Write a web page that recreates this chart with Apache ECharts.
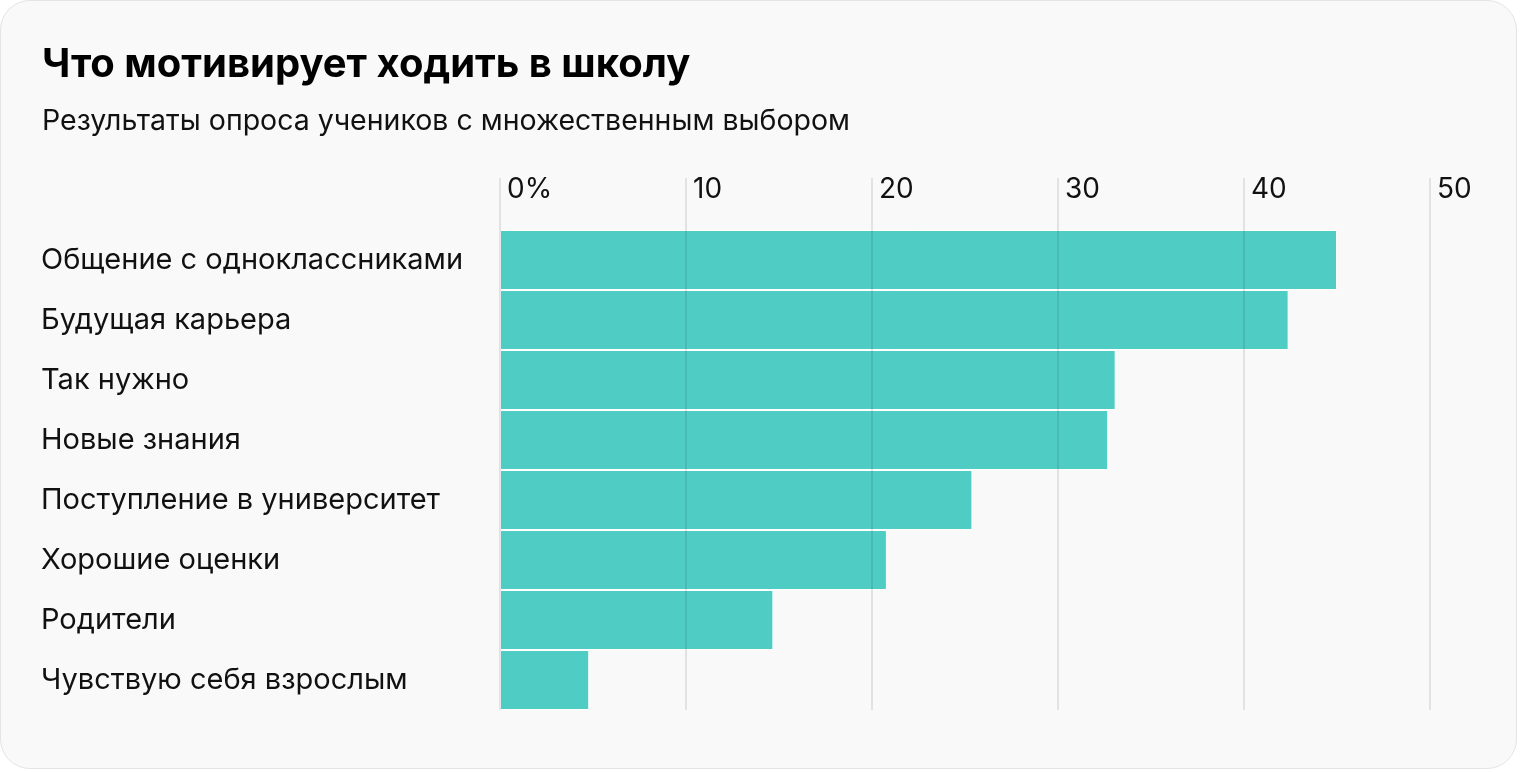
<!DOCTYPE html>
<html>
<head>
<meta charset="utf-8">
<script src="https://cdn.jsdelivr.net/npm/echarts@6/dist/echarts.min.js"></script>
<style>
  html, body { margin: 0; padding: 0; background: #ffffff; }
  #card { position: absolute; left: 0; top: 0; width: 1517px; height: 769px; background: #f9f9f9; border: 1.5px solid #e4e4e4; border-radius: 30px; box-sizing: border-box; }
  #chart { position: absolute; left: 0; top: 0; width: 1520px; height: 772px; }
</style>
</head>
<body>
<div id="card"></div>
<div id="chart"></div>
<script>
const titleText = 'Что мотивирует ходить в школу';
const subtitleText = 'Результаты опроса учеников с множественным выбором';
const categories = [
  'Общение с одноклассниками',
  'Будущая карьера',
  'Так нужно',
  'Новые знания',
  'Поступление в университет',
  'Хорошие оценки',
  'Родители',
  'Чувствую себя взрослым'
];
const values = [45.0, 42.4, 33.1, 32.7, 25.4, 20.8, 14.7, 4.8];
const tickLabels = ['0%', '10', '20', '30', '40', '50'];

const FONT = 'Inter, "Noto Sans", sans-serif';
const chart = echarts.init(document.getElementById('chart'), null, { renderer: 'canvas' });
chart.setOption({
  backgroundColor: 'transparent',
  animation: false,
  title: [
    { text: titleText, left: 37, top: 40, textStyle: { fontFamily: FONT, fontSize: 40, fontWeight: 'bold', color: '#000' } },
    { text: subtitleText, left: 37, top: 102, textStyle: { fontFamily: FONT, fontSize: 28.5, fontWeight: 'normal', color: '#111' } }
  ],
  grid: { left: 500, right: 90, top: 230, bottom: 62, containLabel: false },
  xAxis: {
    type: 'value', position: 'top', min: 0, max: 50, interval: 10, z: 5,
    axisLine: { show: false },
    axisTick: { show: true, length: 52, lineStyle: { color: 'rgba(0,0,0,0.09)', width: 2 } },
    splitLine: { show: true, lineStyle: { color: 'rgba(0,0,0,0.09)', width: 2 } },
    axisLabel: {
      margin: 26, align: 'left', padding: [0, 0, 0, 7],
      fontFamily: FONT, fontSize: 28, color: '#111',
      formatter: function (v) { return tickLabels[Math.round(v / 10)]; }
    }
  },
  yAxis: {
    type: 'category', data: categories, inverse: true,
    axisLine: { show: false }, axisTick: { show: false },
    axisLabel: { margin: 459, align: 'left', fontFamily: FONT, fontSize: 29, color: '#111' }
  },
  series: [{
    type: 'bar', data: values, barCategoryGap: '0%',
    itemStyle: { color: '#4fcdc4', borderColor: '#ffffff', borderWidth: 1 },
    z: 2
  }]
});
</script>
</body>
</html>
